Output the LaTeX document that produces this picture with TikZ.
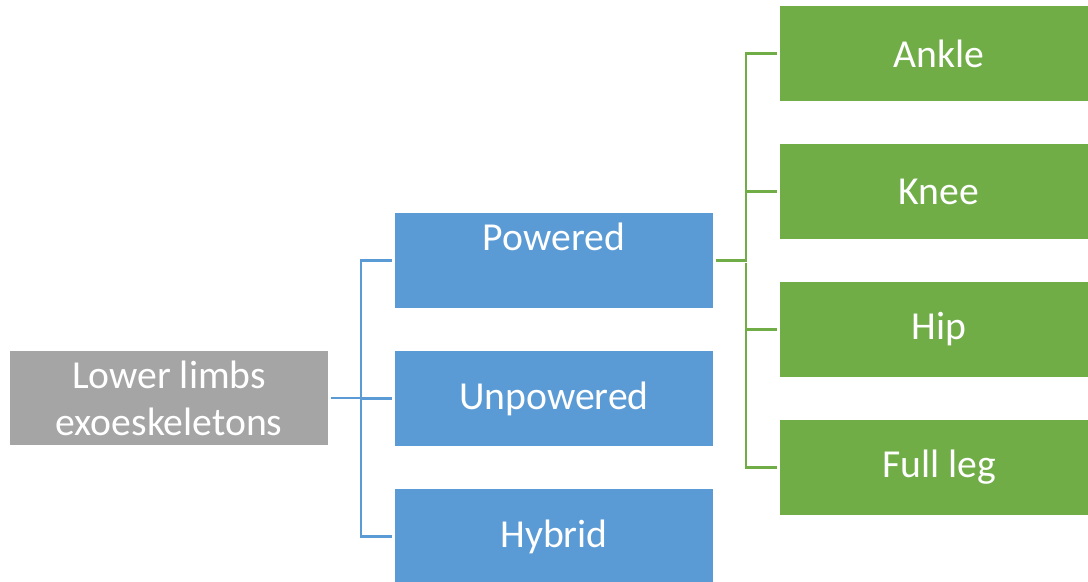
\documentclass[tikz,border=0pt]{standalone}
\usepackage{fontspec}
\setmainfont{Carlito}
\usepackage{xcolor}
\usetikzlibrary{positioning}

\definecolor{boxgray}{HTML}{A5A5A5}
\definecolor{boxblue}{HTML}{5B9BD5}
\definecolor{boxgreen}{HTML}{70AD47}

\tikzset{
  catbox/.style={rectangle, inner sep=0pt, minimum width=7.95cm, minimum height=2.37cm,
    text=white, align=center, font=\fontsize{28.2}{33.5}\selectfont},
  bline/.style={draw=boxblue, line width=2pt, shorten <=2pt, shorten >=2pt},
  gline/.style={draw=boxgreen, line width=2pt, shorten <=2pt, shorten >=2pt}
}

\begin{document}
\begin{tikzpicture}[x=0.025cm, y=-0.025cm]
    \useasboundingbox (0,0) rectangle (1088,581);

    %root
    \node[catbox, fill=boxgray] (lle) at (169,398) {Lower limbs\\exoeskeletons};

    %second level
    \node[catbox, fill=boxblue] (pow) at (554,260.5) {Powered\\\mbox{}};
    \node[catbox, fill=boxblue] (unp) at (554,398.5) {Unpowered};
    \node[catbox, fill=boxblue] (hyb) at (554,536.5) {Hybrid};

    %third level
    \node[catbox, fill=boxgreen] (ank) at (939,53.5) {Ankle};
    \node[catbox, fill=boxgreen] (kne) at (939,191.5) {Knee};
    \node[catbox, fill=boxgreen] (hip) at (939,329.5) {Hip};
    \node[catbox, fill=boxgreen] (ful) at (939,467.5) {Full leg};

    %connettori
    \coordinate (bj) at (361,398);
    \coordinate (gj) at (746,260.5);
    \draw[bline] (lle.east) -- (bj) |- (pow.west);
    \draw[bline] (bj) |- (unp.west);
    \draw[bline] (bj) |- (hyb.west);

    \draw[gline] (pow.east) -- (gj) |- (ank.west);
    \draw[gline] (gj) |- (kne.west);
    \draw[gline] (gj) |- (hip.west);
    \draw[gline] (gj) |- (ful.west);
\end{tikzpicture}
\end{document}
